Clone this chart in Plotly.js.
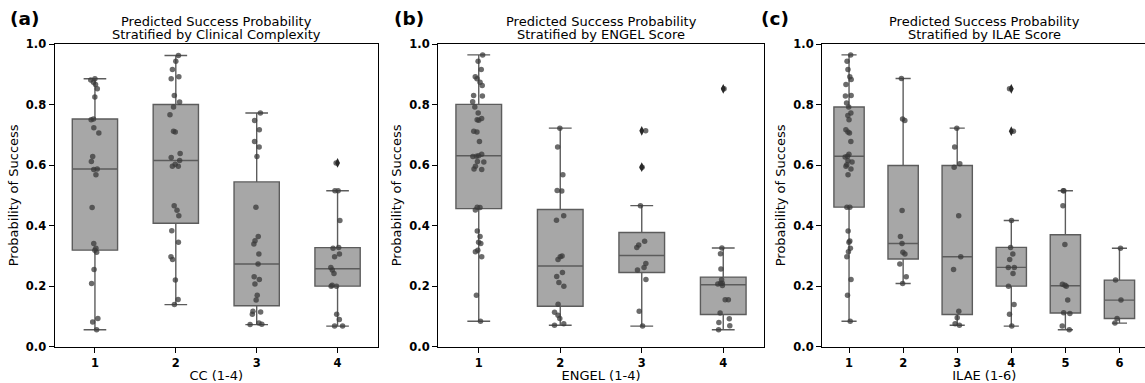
<!DOCTYPE html>
<html>
<head>
<meta charset="utf-8">
<script src="https://cdn.plot.ly/plotly-3.0.1.min.js"></script>
<style>
html,body{margin:0;padding:0;background:#fff;overflow:hidden;}
#chart{width:1148px;height:383px;}
</style>
</head>
<body>
<div id="chart"></div>
<script>
// ---- Data ----
const ccCats = ['1','2','3','4'];
const cc1 = [0.885,0.881,0.874,0.866,0.852,0.825,0.752,0.750,0.723,0.706,0.628,0.612,0.587,0.585,0.568,0.460,0.341,0.325,0.319,0.312,0.255,0.209,0.093,0.082,0.056];
const cc2 = [0.962,0.943,0.916,0.892,0.885,0.830,0.808,0.792,0.766,0.712,0.709,0.638,0.625,0.615,0.603,0.596,0.596,0.466,0.451,0.433,0.383,0.345,0.297,0.288,0.220,0.156,0.139];
const cc3 = [0.772,0.747,0.717,0.678,0.660,0.628,0.461,0.364,0.350,0.339,0.306,0.273,0.231,0.222,0.207,0.170,0.154,0.117,0.115,0.107,0.078,0.074,0.073];
const cc4 = [0.607,0.515,0.515,0.417,0.328,0.325,0.306,0.297,0.262,0.253,0.242,0.203,0.200,0.200,0.107,0.090,0.068,0.068];

const engelCats = ['1','2','3','4'];
const engel1 = [0.964,0.943,0.916,0.892,0.885,0.874,0.863,0.830,0.828,0.809,0.792,0.772,0.754,0.750,0.748,0.712,0.709,0.678,0.636,0.631,0.629,0.628,0.612,0.610,0.596,0.587,0.585,0.461,0.460,0.452,0.382,0.364,0.345,0.341,0.319,0.314,0.297,0.170,0.084];
const engel2 = [0.722,0.660,0.568,0.516,0.514,0.433,0.418,0.300,0.297,0.288,0.245,0.232,0.212,0.200,0.140,0.114,0.104,0.093,0.076,0.071];
const engel3 = [0.713,0.593,0.466,0.348,0.336,0.328,0.275,0.262,0.253,0.222,0.117,0.068];
const engel4 = [0.852,0.326,0.307,0.257,0.221,0.210,0.210,0.207,0.202,0.155,0.155,0.111,0.092,0.080,0.069,0.056];

const ilaeCats = ['1','2','3','4','5','6'];
const ilae1 = [0.964,0.943,0.916,0.892,0.883,0.866,0.830,0.828,0.805,0.792,0.772,0.764,0.750,0.717,0.709,0.706,0.678,0.636,0.629,0.627,0.614,0.610,0.601,0.596,0.587,0.568,0.461,0.461,0.382,0.349,0.345,0.325,0.314,0.297,0.222,0.170,0.084];
const ilae2 = [0.886,0.752,0.747,0.450,0.364,0.341,0.312,0.306,0.273,0.231,0.209];
const ilae3 = [0.722,0.660,0.604,0.593,0.433,0.297,0.255,0.117,0.096,0.076,0.071];
const ilae4 = [0.852,0.712,0.417,0.328,0.306,0.288,0.262,0.262,0.242,0.200,0.139,0.107,0.068];
const ilae5 = [0.515,0.515,0.466,0.338,0.206,0.203,0.200,0.154,0.112,0.110,0.068,0.056];
const ilae6 = [0.325,0.220,0.154,0.093,0.078];

const panelLetters = ['(a)','(b)','(c)'];
const titlesLine1 = ['Predicted Success Probability','Predicted Success Probability','Predicted Success Probability'];
const titlesLine2 = ['Stratified by Clinical Complexity','Stratified by ENGEL Score','Stratified by ILAE Score'];
const xTitles = ['CC (1-4)','ENGEL (1-4)','ILAE (1-6)'];
const yTitle = 'Probability of Success';
const yTicks = [0,0.2,0.4,0.6,0.8,1.0];

// ---- Styling ----
const W = 1148, H = 383;
const FONT = 'DejaVu Sans, Verdana, sans-serif';
const boxFill = 'rgb(167,167,167)';
const boxLine = 'rgb(92,92,92)';
const ptColor = 'rgba(58,58,58,0.75)';
const flierColor = 'rgb(40,40,40)';

const panels = [
  {cats: ccCats, groups: [cc1,cc2,cc3,cc4], xa:'x', ya:'y', px:[54.5,378]},
  {cats: engelCats, groups: [engel1,engel2,engel3,engel4], xa:'x2', ya:'y2', px:[438,764]},
  {cats: ilaeCats, groups: [ilae1,ilae2,ilae3,ilae4,ilae5,ilae6], xa:'x3', ya:'y3', px:[822,1146.5]}
];
const yTopPx = 44, yBotPx = 346.7;

// numpy-style (linear) percentile + matplotlib 1.5*IQR whiskers
function pct(s, p) {
  const idx = p * (s.length - 1), lo = Math.floor(idx), hi = Math.ceil(idx);
  return s[lo] + (s[hi] - s[lo]) * (idx - lo);
}
function stats(arr) {
  const s = arr.slice().sort((a, b) => a - b);
  const q1 = pct(s, 0.25), med = pct(s, 0.5), q3 = pct(s, 0.75), iqr = q3 - q1;
  const hiLim = q3 + 1.5 * iqr, loLim = q1 - 1.5 * iqr;
  const inside = s.filter(v => v >= loLim && v <= hiLim);
  return {q1, med, q3, lo: inside[0], hi: inside[inside.length - 1],
          out: s.filter(v => v < loLim || v > hiLim)};
}

const boxTraces = [], ptTraces = [], flierTraces = [];
panels.forEach(p => {
  const st = p.groups.map(stats);
  boxTraces.push({
    type:'box', x: p.cats, xaxis: p.xa, yaxis: p.ya,
    q1: st.map(d => d.q1), median: st.map(d => d.med), q3: st.map(d => d.q3),
    lowerfence: st.map(d => d.lo), upperfence: st.map(d => d.hi),
    boxpoints:false, fillcolor: boxFill, line:{color: boxLine, width:1.4},
    whiskerwidth:0.5, hoverinfo:'skip', showlegend:false
  });
  const xs = [], ys = [];
  p.groups.forEach((arr, i) => arr.forEach(v => { xs.push(p.cats[i]); ys.push(v); }));
  ptTraces.push({
    type:'box', x: xs, y: ys, xaxis: p.xa, yaxis: p.ya,
    boxpoints:'all', jitter:0.3, pointpos:0,
    fillcolor:'rgba(0,0,0,0)', line:{color:'rgba(0,0,0,0)', width:0},
    whiskerwidth:0, marker:{size:5.5, color: ptColor, line:{width:0}},
    hoverinfo:'skip', showlegend:false
  });
  const fx = [], fy = [];
  st.forEach((d, i) => d.out.forEach(v => { fx.push(p.cats[i]); fy.push(v); }));
  flierTraces.push({
    type:'scatter', mode:'markers', x: fx, y: fy, xaxis: p.xa, yaxis: p.ya,
    marker:{symbol:'diamond-tall', size:7, color: flierColor, line:{width:0}},
    hoverinfo:'skip', showlegend:false
  });
});
const traces = boxTraces.concat(ptTraces, flierTraces);

const layout = {
  width: W, height: H,
  margin:{l:0, r:0, t:0, b:0, pad:0},
  paper_bgcolor:'#fff', plot_bgcolor:'#fff',
  font:{family: FONT, color:'#000', size:13},
  boxmode:'overlay', boxgap:0.2,
  showlegend:false,
  annotations: []
};

panels.forEach((p, k) => {
  const sfx = k === 0 ? '' : String(k+1);
  const n = p.cats.length;
  layout['xaxis'+sfx] = {
    domain:[p.px[0]/W, Math.min(1, p.px[1]/W)],
    anchor: 'y'+sfx,
    type:'category', range:[-0.5, n-0.5],
    showline:true, mirror:true, linecolor:'#000', linewidth:1,
    ticks:'outside', ticklen:5, tickwidth:1, tickcolor:'#000',
    showgrid:false, zeroline:false,
    tickfont:{family: FONT, size:11.5, weight:'bold', color:'#000'},
    title:{text: xTitles[k], font:{family: FONT, size:13, color:'#000'}, standoff:4},
    fixedrange:true
  };
  layout['yaxis'+sfx] = {
    domain:[(H-yBotPx)/H, (H-yTopPx)/H],
    anchor: 'x'+sfx,
    range:[0,1], tickvals: yTicks, tickformat:'.1f',
    showline:true, mirror:true, linecolor:'#000', linewidth:1,
    ticks:'outside', ticklen:5, tickwidth:1, tickcolor:'#000',
    showgrid:false, zeroline:false,
    tickfont:{family: FONT, size:11.5, weight:'bold', color:'#000'},
    title:{text: yTitle, font:{family: FONT, size:13, color:'#000'}, standoff:4},
    fixedrange:true
  };
  const cx = (p.px[0] + p.px[1]) / 2 / W;
  layout.annotations.push({
    xref:'paper', yref:'paper', x: cx, y: 1 - 21.5/H, xanchor:'center', yanchor:'middle',
    text: titlesLine1[k], showarrow:false, font:{family: FONT, size:13, color:'#000'}
  });
  layout.annotations.push({
    xref:'paper', yref:'paper', x: cx, y: 1 - 34.8/H, xanchor:'center', yanchor:'middle',
    text: titlesLine2[k], showarrow:false, font:{family: FONT, size:13, color:'#000'}
  });
  const letterX = [8, 392, 759][k];
  layout.annotations.push({
    xref:'paper', yref:'paper', x: letterX/W, y: 1 - 18.5/H, xanchor:'left', yanchor:'middle',
    text: panelLetters[k], showarrow:false, font:{family: FONT, size:18.5, weight:'bold', color:'#000'}
  });
});

Plotly.newPlot('chart', traces, layout, {staticPlot:true, displayModeBar:false});
</script>
</body>
</html>
